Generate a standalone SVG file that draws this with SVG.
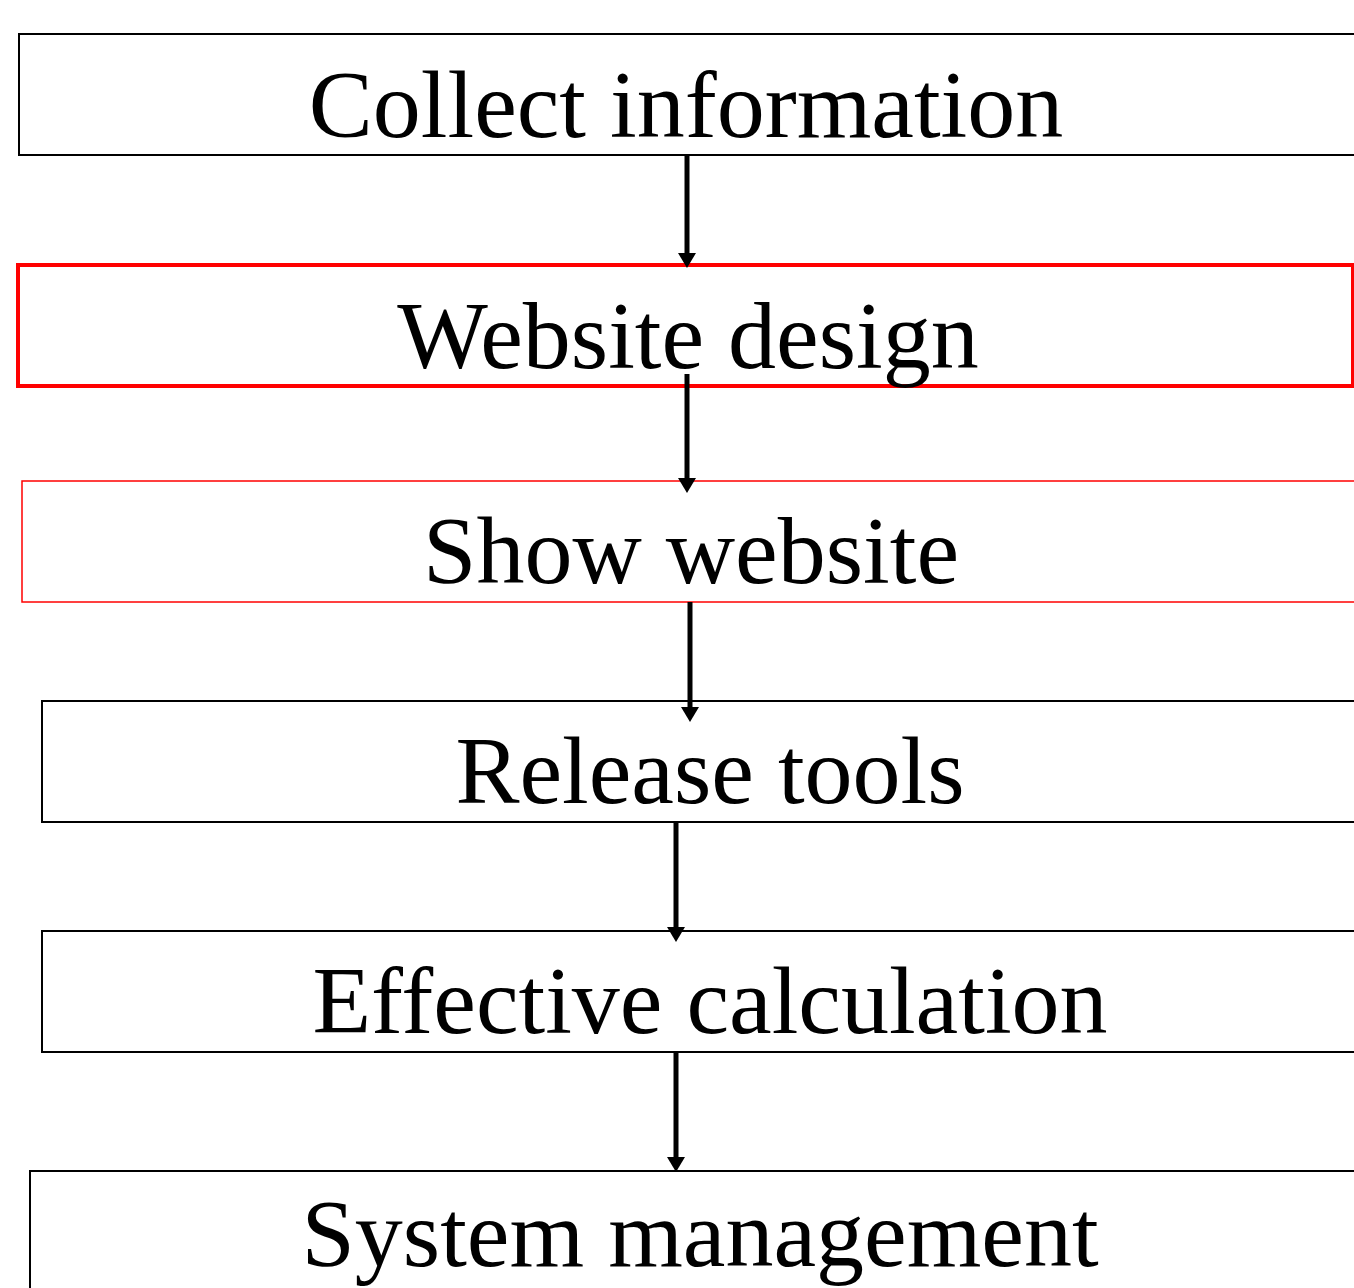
<svg xmlns="http://www.w3.org/2000/svg" width="1354" height="1288" viewBox="0 0 1354 1288">
<style>
.box{fill:#fff;stroke:#000;stroke-width:2}
.lbl{font-family:"Liberation Serif","Times New Roman",serif;font-size:96px;fill:#000;text-anchor:middle}
.con{stroke:#000;stroke-width:5;fill:none}
.head{fill:#000}
</style>
<rect width="1354" height="1288" fill="#fff"/>
<g id="n1"><rect class="box" x="19" y="34" width="1360" height="121"/><text class="lbl" x="686" y="137">Collect information</text></g>
<g id="n2"><rect class="box" x="18" y="265" width="1335" height="121" style="stroke:#f00;stroke-width:4"/><text class="lbl" x="688" y="368">Website design</text></g>
<g id="n3"><rect class="box" x="22" y="481" width="1360" height="121" style="stroke:#f00;stroke-width:1.5"/><text class="lbl" x="691" y="583">Show website</text></g>
<g id="n4"><rect class="box" x="42" y="701" width="1340" height="121"/><text class="lbl" x="710" y="803">Release tools</text></g>
<g id="n5"><rect class="box" x="42" y="931" width="1340" height="121"/><text class="lbl" x="710" y="1033">Effective calculation</text></g>
<g id="n6"><rect class="box" x="30" y="1171" width="1360" height="140"/><text class="lbl" x="700" y="1266">System management</text></g>
<g id="connectors">
<line class="con" x1="687" y1="155" x2="687" y2="256"/><polygon class="head" points="678,253 696,253 687,268"/>
<line class="con" x1="687" y1="374" x2="687" y2="481"/><polygon class="head" points="678,478 696,478 687,493"/>
<line class="con" x1="690" y1="602" x2="690" y2="710"/><polygon class="head" points="681,707 699,707 690,722"/>
<line class="con" x1="676" y1="822" x2="676" y2="930"/><polygon class="head" points="667,927 685,927 676,942"/>
<line class="con" x1="676" y1="1052" x2="676" y2="1160"/><polygon class="head" points="667,1157 685,1157 676,1172"/>
</g>
</svg>
